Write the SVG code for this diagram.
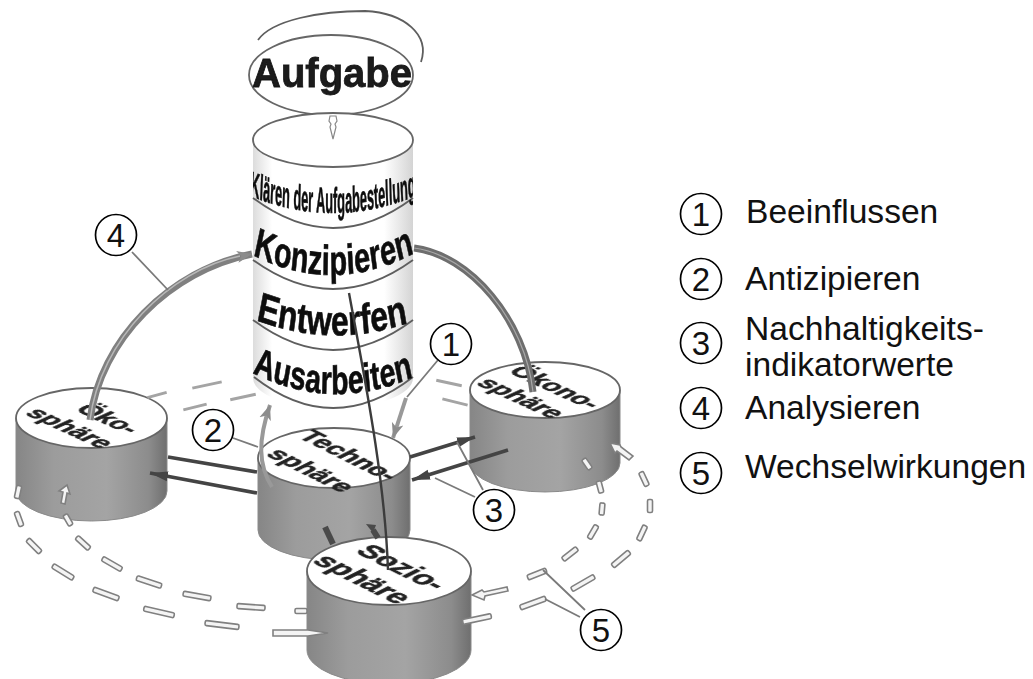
<svg xmlns="http://www.w3.org/2000/svg" width="1033" height="679" viewBox="0 0 1033 679">
<style>
.body{fill:url(#grey);stroke:#8a8a8a;stroke-width:1}
.stack{fill:url(#pale)}
.top{fill:#fff;stroke:#666;stroke-width:1.8}
.ring{fill:none;stroke:#5e5e5e;stroke-width:1.8}
.st{font:bold 33px "Liberation Sans",Arial,sans-serif;fill:#222;stroke:#222;stroke-width:.9;filter:url(#soft)}
.ct{font-family:"Liberation Sans",Arial,sans-serif;font-weight:bold;fill:#111;stroke:#111;stroke-width:.7;text-anchor:middle;filter:url(#soft)}
.d{fill:#f4f4f4;stroke:#808080;stroke-width:1.6}
.g{fill:#a4a4a4}
.lead{fill:none;stroke:#7a7a7a;stroke-width:1.8}
.dark{fill:none;stroke:#444;stroke-width:3.6}
.fat{fill:none;stroke:#4a4a4a;stroke-width:6}
.num{fill:#fff;stroke:#000;stroke-width:1.7}
.nt{font:33px "Liberation Sans",Arial,sans-serif;fill:#111;text-anchor:middle}
.lt{font:33.6px "Liberation Sans",Arial,sans-serif;fill:#111}
</style>
<defs>
<linearGradient id="grey"><stop offset="0" stop-color="#868686"/><stop offset=".25" stop-color="#9c9c9c"/><stop offset=".6" stop-color="#a4a4a4"/><stop offset=".88" stop-color="#8c8c8c"/><stop offset="1" stop-color="#6f6f6f"/></linearGradient>
<linearGradient id="pale"><stop offset="0" stop-color="#dcdcdc"/><stop offset=".12" stop-color="#fff"/><stop offset=".82" stop-color="#fff"/><stop offset="1" stop-color="#d4d4d4"/></linearGradient>
<filter id="soft" x="-10%" y="-10%" width="120%" height="120%"><feGaussianBlur stdDeviation=".45"/></filter>
<marker id="ag" markerUnits="userSpaceOnUse" markerWidth="18" markerHeight="14" refX="15" refY="7" orient="auto"><path d="M0 1 15 7 0 13 4 7Z" fill="#8c8c8c"/></marker>
<marker id="ad" markerUnits="userSpaceOnUse" markerWidth="20" markerHeight="14" refX="18" refY="7" orient="auto"><path d="M0 2 18 7 0 12Z" fill="#444"/></marker>
<path id="p1" d="M638 184.600 Q938 241.400 1238 184.600"/>
<path id="p2" d="M368 255 Q486 296 603 253"/>
<path id="p3" d="M337 320 Q438 349 537 323"/>
<path id="p4" d="M356 373 Q469 413 582 377"/>
<clipPath id="cstack"><rect x="253" y="160" width="160" height="70"/></clipPath>
</defs>

<g id="aufgabe">
<path class="ring" d="M258 40C272 20 320 11 365 11C405 13 430 35 421 62"/>
<ellipse class="top" cx="331" cy="75" rx="82" ry="40"/>
<text x="332" y="87" style="font:bold 40px 'Liberation Sans',Arial,sans-serif;fill:#1a1a1a;stroke:#1a1a1a;stroke-width:.8;text-anchor:middle;filter:url(#soft)">Aufgabe</text>
</g>

<g id="oekosphaere">
<path class="body" d="M16 418V491A75.500 30 0 0 0 167 491V418Z"/>
<ellipse class="top" cx="91.500" cy="418" rx="75.500" ry="30"/>
<text class="st" transform="translate(74 410) scale(1 .46) rotate(45)">Öko-</text>
<text class="st" transform="translate(24 414) scale(1 .46) rotate(45)">sphäre</text>
</g>

<g id="phasen">
<path class="stack" d="M253 140V378A80 30 0 0 0 413 378V140Z"/>
<ellipse class="top" cx="333" cy="140" rx="80" ry="27"/>
<path class="ring" d="M253 198Q333 258 413 198M253 260Q333 318 413 260M253 320Q333 380 413 320M254 377Q333 439 413 377"/>
<g clip-path="url(#cstack)"><text class="ct" transform="scale(.355 1)" font-size="36"><textPath href="#p1" startOffset="50%">Klären der Aufgabestellung</textPath></text></g>
<text class="ct" transform="scale(.687 1)" font-size="42"><textPath href="#p2" startOffset="50%">Konzipieren</textPath></text>
<text class="ct" transform="scale(.76 1)" font-size="42"><textPath href="#p3" startOffset="50%">Entwerfen</textPath></text>
<text class="ct" transform="scale(.71 1)" font-size="40"><textPath href="#p4" startOffset="50%">Ausarbeiten</textPath></text>
</g>

<g id="technosphaere">
<path class="body" d="M258 458V530A76 30 0 0 0 410 530V458Z"/>
<ellipse class="top" cx="334" cy="458" rx="76" ry="30"/>
<text class="st" transform="translate(297 437) scale(1 .5) rotate(45)">Techno-</text>
<text class="st" transform="translate(265 455) scale(1 .5) rotate(45)">sphäre</text>
</g>

<g id="oekonosphaere">
<path class="body" d="M470 390V463A75 29 0 0 0 620 463V390Z"/>
<ellipse class="top" cx="545" cy="390" rx="75" ry="28"/>
<text class="st" transform="translate(507 372) scale(1 .46) rotate(45)">Ökono-</text>
<text class="st" transform="translate(475 384) scale(1 .46) rotate(45)">sphäre</text>
</g>

<g id="soziosphaere">
<path class="body" d="M307 571V650A82 34 0 0 0 471 650V571Z"/>
<ellipse class="top" cx="389" cy="571" rx="82" ry="34"/>
<text class="st" transform="translate(354 552) scale(1 .5) rotate(45)" style="font-size:37px">Sozio-</text>
<text class="st" transform="translate(311 562) scale(1 .5) rotate(45)" style="font-size:37px">sphäre</text>
</g>

<g id="connectors">
<path d="M330 116h6l1 5-2 3 1 3-3 12-3-12 1-3-2-3Z" fill="#fff" stroke="#888" stroke-width="1.2"/>
<path d="M90 420C100 340 170 270 252 254" fill="none" stroke="#808080" stroke-width="7" marker-end="url(#ag)"/>
<path d="M90 420C100 340 170 270 240 256" fill="none" stroke="#b8b8b8" stroke-width="1.5"/>
<path d="M414 248C470 255 525 320 533 392" fill="none" stroke="#6e6e6e" stroke-width="7"/>
<path d="M414 248C470 255 525 320 533 392" fill="none" stroke="#a8a8a8" stroke-width="1.2"/>
<path d="M272 487C258 465 258 440 270 405" fill="none" stroke="#999" stroke-width="4" marker-end="url(#ag)"/>
<path d="M406 398L393 438" fill="none" stroke="#999" stroke-width="4" marker-end="url(#ag)"/>
<path class="dark" d="M168 457L257 472"/>
<path class="dark" d="M257 493L150 473" marker-end="url(#ad)"/>
<path class="dark" d="M410 457L475 437" marker-end="url(#ad)"/>
<path class="dark" d="M508 450L412 480" marker-end="url(#ad)"/>
<path class="fat" d="M325 527L333 544"/>
<path class="fat" d="M378 538L373 530"/>
<path d="M366 524L376 525 373 533Z" fill="#4a4a4a"/>
<path d="M349 293C365 380 385 480 388 570" fill="none" stroke="#3c3c3c" stroke-width="2.400"/>

<g class="g">
<rect x="-10" y="-1.500" width="20" height="3" transform="translate(157 395) rotate(-15)"/>
<rect x="-15" y="-1.500" width="30" height="3" transform="translate(207 385) rotate(-12)"/>
<rect x="-12" y="-1.500" width="24" height="3" transform="translate(195 407) rotate(-14)"/>
<rect x="-13" y="-1.500" width="26" height="3" transform="translate(243 397) rotate(-12)"/>
<rect x="-13" y="-1.500" width="26" height="3" transform="translate(449 383) rotate(12)"/>
<rect x="-13" y="-1.500" width="26" height="3" transform="translate(455 402) rotate(14)"/>
</g>
<g class="d">
<rect x="-6.500" y="-2.500" rx="1.500" width="13" height="5" transform="translate(18 492) rotate(-78)"/>
<rect x="-7.500" y="-2.500" rx="1.500" width="15" height="5" transform="translate(19 519) rotate(70)"/>
<rect x="-9" y="-2.500" rx="1.500" width="18" height="5" transform="translate(34 546) rotate(45)"/>
<rect x="-12" y="-2.500" rx="1.500" width="24" height="5" transform="translate(63 572) rotate(32)"/>
<rect x="-13.500" y="-2.500" rx="1.500" width="27" height="5" transform="translate(106 594) rotate(20)"/>
<rect x="-15.500" y="-2.500" rx="1.500" width="31" height="5" transform="translate(159 612) rotate(13)"/>
<rect x="-17" y="-2.500" rx="1.500" width="34" height="5" transform="translate(222 625) rotate(7)"/>
<rect x="-6" y="-2.500" rx="1.500" width="12" height="5" transform="translate(68 520) rotate(60)"/>
<rect x="-8.500" y="-2.500" rx="1.500" width="17" height="5" transform="translate(83 543) rotate(42)"/>
<rect x="-11" y="-2.500" rx="1.500" width="22" height="5" transform="translate(112 564) rotate(30)"/>
<rect x="-13" y="-2.500" rx="1.500" width="26" height="5" transform="translate(149 582) rotate(18)"/>
<rect x="-14" y="-2.500" rx="1.500" width="28" height="5" transform="translate(197 596) rotate(10)"/>
<rect x="-14" y="-2.500" rx="1.500" width="28" height="5" transform="translate(251 607) rotate(4)"/>
<rect x="-6" y="-2.500" rx="1.500" width="12" height="5" transform="translate(301 611)"/>
<path d="M273 630H308L328 633 308 636H273Z"/>
<path d="M61 503L63 492 59 491 67 485 70 494 67 493 65 504Z"/>
<path d="M472 595L482 590 484 592 507 587 508 591 485 596 484 600Z"/>
<rect x="-14.500" y="-2.500" rx="1.500" width="29" height="5" transform="translate(477 619) rotate(-12)"/>
<rect x="-10" y="-2.500" rx="1.500" width="20" height="5" transform="translate(537 574) rotate(-22)"/>
<rect x="-13.500" y="-2.500" rx="1.500" width="27" height="5" transform="translate(533 603) rotate(-20)"/>
<rect x="-13" y="-2.500" rx="1.500" width="26" height="5" transform="translate(583 583) rotate(-30)"/>
<rect x="-9" y="-2.500" rx="1.500" width="18" height="5" transform="translate(570 554) rotate(-38)"/>
<rect x="-11" y="-2.500" rx="1.500" width="22" height="5" transform="translate(621 559) rotate(-40)"/>
<rect x="-7.500" y="-2.500" rx="1.500" width="15" height="5" transform="translate(593 532) rotate(-60)"/>
<rect x="-8" y="-2.500" rx="1.500" width="16" height="5" transform="translate(642 533) rotate(-65)"/>
<rect x="-6" y="-2.500" rx="1.500" width="12" height="5" transform="translate(602 509) rotate(-85)"/>
<rect x="-6.500" y="-2.500" rx="1.500" width="13" height="5" transform="translate(650 506) rotate(90)"/>
<rect x="-6" y="-2.500" rx="1.500" width="12" height="5" transform="translate(600 487) rotate(75)"/>
<rect x="-7.500" y="-2.500" rx="1.500" width="15" height="5" transform="translate(644 479) rotate(65)"/>
<rect x="-6" y="-2.500" rx="1.500" width="12" height="5" transform="translate(587 464) rotate(55)"/>
<path d="M610 443L620 445 621 447 633 456 629 460 617 451 615 453Z"/>
</g>

<path class="lead" d="M132 252L168 290M233 438L258 447M438 360L407 397M483 490L457 442M475 497L435 478M585 610L543 570M580 617L545 599"/>
</g>

<g id="callouts">
<circle class="num" cx="116" cy="235" r="20.500"/><text class="nt" x="116" y="247">4</text>
<circle class="num" cx="451" cy="344" r="20.500"/><text class="nt" x="451" y="356">1</text>
<circle class="num" cx="213" cy="430" r="20.500"/><text class="nt" x="213" y="442">2</text>
<circle class="num" cx="494" cy="510" r="20.500"/><text class="nt" x="494" y="522">3</text>
<circle class="num" cx="601" cy="630" r="20.500"/><text class="nt" x="601" y="642">5</text>
</g>

<g id="legend">
<circle class="num" cx="701" cy="214" r="20.500"/><text class="nt" x="701" y="226">1</text>
<circle class="num" cx="701" cy="279" r="20.500"/><text class="nt" x="701" y="291">2</text>
<circle class="num" cx="701" cy="343" r="20.500"/><text class="nt" x="701" y="355">3</text>
<circle class="num" cx="701" cy="408" r="20.500"/><text class="nt" x="701" y="420">4</text>
<circle class="num" cx="701" cy="473" r="20.500"/><text class="nt" x="701" y="485">5</text>
<text class="lt" x="746" y="223">Beeinflussen</text>
<text class="lt" x="745" y="290">Antizipieren</text>
<text class="lt" x="745" y="340">Nachhaltigkeits-</text>
<text class="lt" x="745" y="376">indikatorwerte</text>
<text class="lt" x="745" y="419">Analysieren</text>
<text class="lt" x="745" y="478">Wechselwirkungen</text>
</g>
</svg>
